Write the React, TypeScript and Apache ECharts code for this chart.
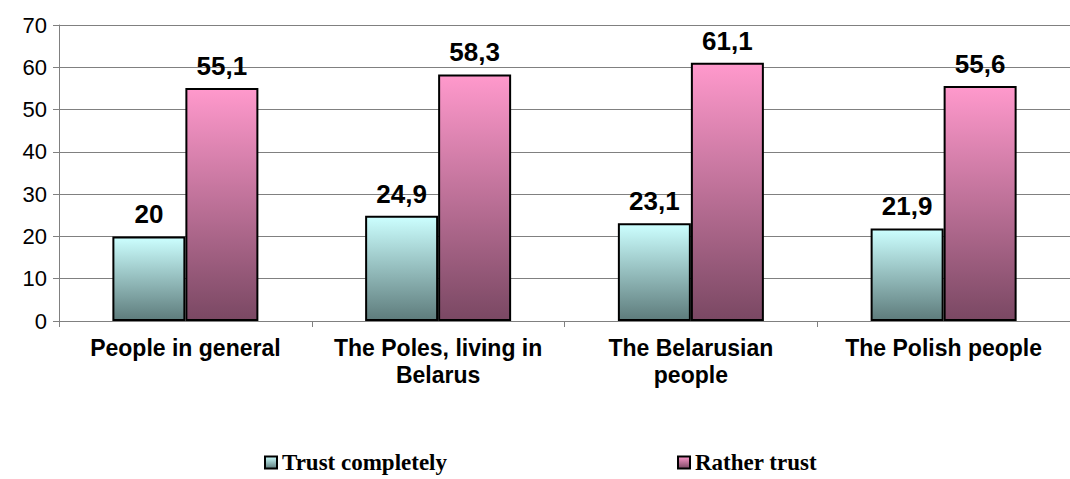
import React, { useEffect, useRef } from "react";
import * as echarts from "echarts";

const categories = [
  "People in general",
  "The Poles, living in\nBelarus",
  "The Belarusian\npeople",
  "The Polish people",
];
const seriesNames = ["Trust completely", "Rather trust"];
const trustCompletely = [20, 24.9, 23.1, 21.9];
const ratherTrust = [55.1, 58.3, 61.1, 55.6];
const yTicks = { min: 0, max: 70, interval: 10 };

const tealGrad = () =>
  new echarts.graphic.LinearGradient(0, 0, 0, 1, [
    { offset: 0, color: "#CCFFFF" },
    { offset: 1, color: "#5E7C7C" },
  ]);
const pinkGrad = () =>
  new echarts.graphic.LinearGradient(0, 0, 0, 1, [
    { offset: 0, color: "#FF99CC" },
    { offset: 1, color: "#7A4863" },
  ]);

const SANS = "Arial, 'Liberation Sans', sans-serif";

export default function App() {
  const ref = useRef<HTMLDivElement>(null);
  useEffect(() => {
    if (!ref.current) return;
    const chart = echarts.init(ref.current, null, { renderer: "svg" });
    const labelCfg = {
      show: true,
      position: "top" as const,
      distance: 9,
      fontFamily: SANS,
      fontWeight: "bold" as const,
      fontSize: 26,
      color: "#000",
      formatter: (p: any) => String(p.value).replace(".", ","),
    };
    chart.setOption({
      animation: false,
      backgroundColor: "#fff",
      grid: { left: 59, top: 25, right: -13, bottom: 158, containLabel: false },
      legend: {
        top: 446,
        left: 259,
        itemGap: 230,
        itemWidth: 12,
        itemHeight: 12,
        icon: "rect",
        textStyle: {
          fontFamily: "'Liberation Serif', 'Times New Roman', serif",
          fontWeight: "bold",
          fontSize: 23,
          color: "#000",
        },
        data: seriesNames,
      },
      xAxis: {
        type: "category",
        data: categories,
        axisLine: { lineStyle: { color: "#808080", width: 1 } },
        axisTick: { show: true, length: 6, lineStyle: { color: "#808080" } },
        axisLabel: {
          interval: 0,
          margin: 13,
          fontFamily: SANS,
          fontWeight: "bold",
          fontSize: 23,
          lineHeight: 27,
          color: "#000",
          align: "center",
        },
      },
      yAxis: {
        type: "value",
        min: yTicks.min,
        max: yTicks.max,
        interval: yTicks.interval,
        axisLine: { show: true, lineStyle: { color: "#808080", width: 1 } },
        axisTick: { show: true, length: 6, lineStyle: { color: "#808080" } },
        axisLabel: {
          margin: 12,
          fontFamily: SANS,
          fontSize: 22,
          color: "#000",
        },
        splitLine: { show: true, lineStyle: { color: "#808080", width: 1 } },
      },
      series: [
        {
          name: seriesNames[0],
          type: "bar",
          data: trustCompletely,
          barWidth: 73,
          barGap: "0%",
          itemStyle: { color: tealGrad(), borderColor: "#000", borderWidth: 2 },
          label: labelCfg,
        },
        {
          name: seriesNames[1],
          type: "bar",
          data: ratherTrust,
          barWidth: 73,
          barGap: "0%",
          itemStyle: { color: pinkGrad(), borderColor: "#000", borderWidth: 2 },
          label: labelCfg,
        },
      ],
    });
    return () => chart.dispose();
  }, []);
  return (
    <div
      ref={ref}
      style={{ position: "fixed", left: 0, top: 0, width: 1070, height: 479 }}
    />
  );
}
